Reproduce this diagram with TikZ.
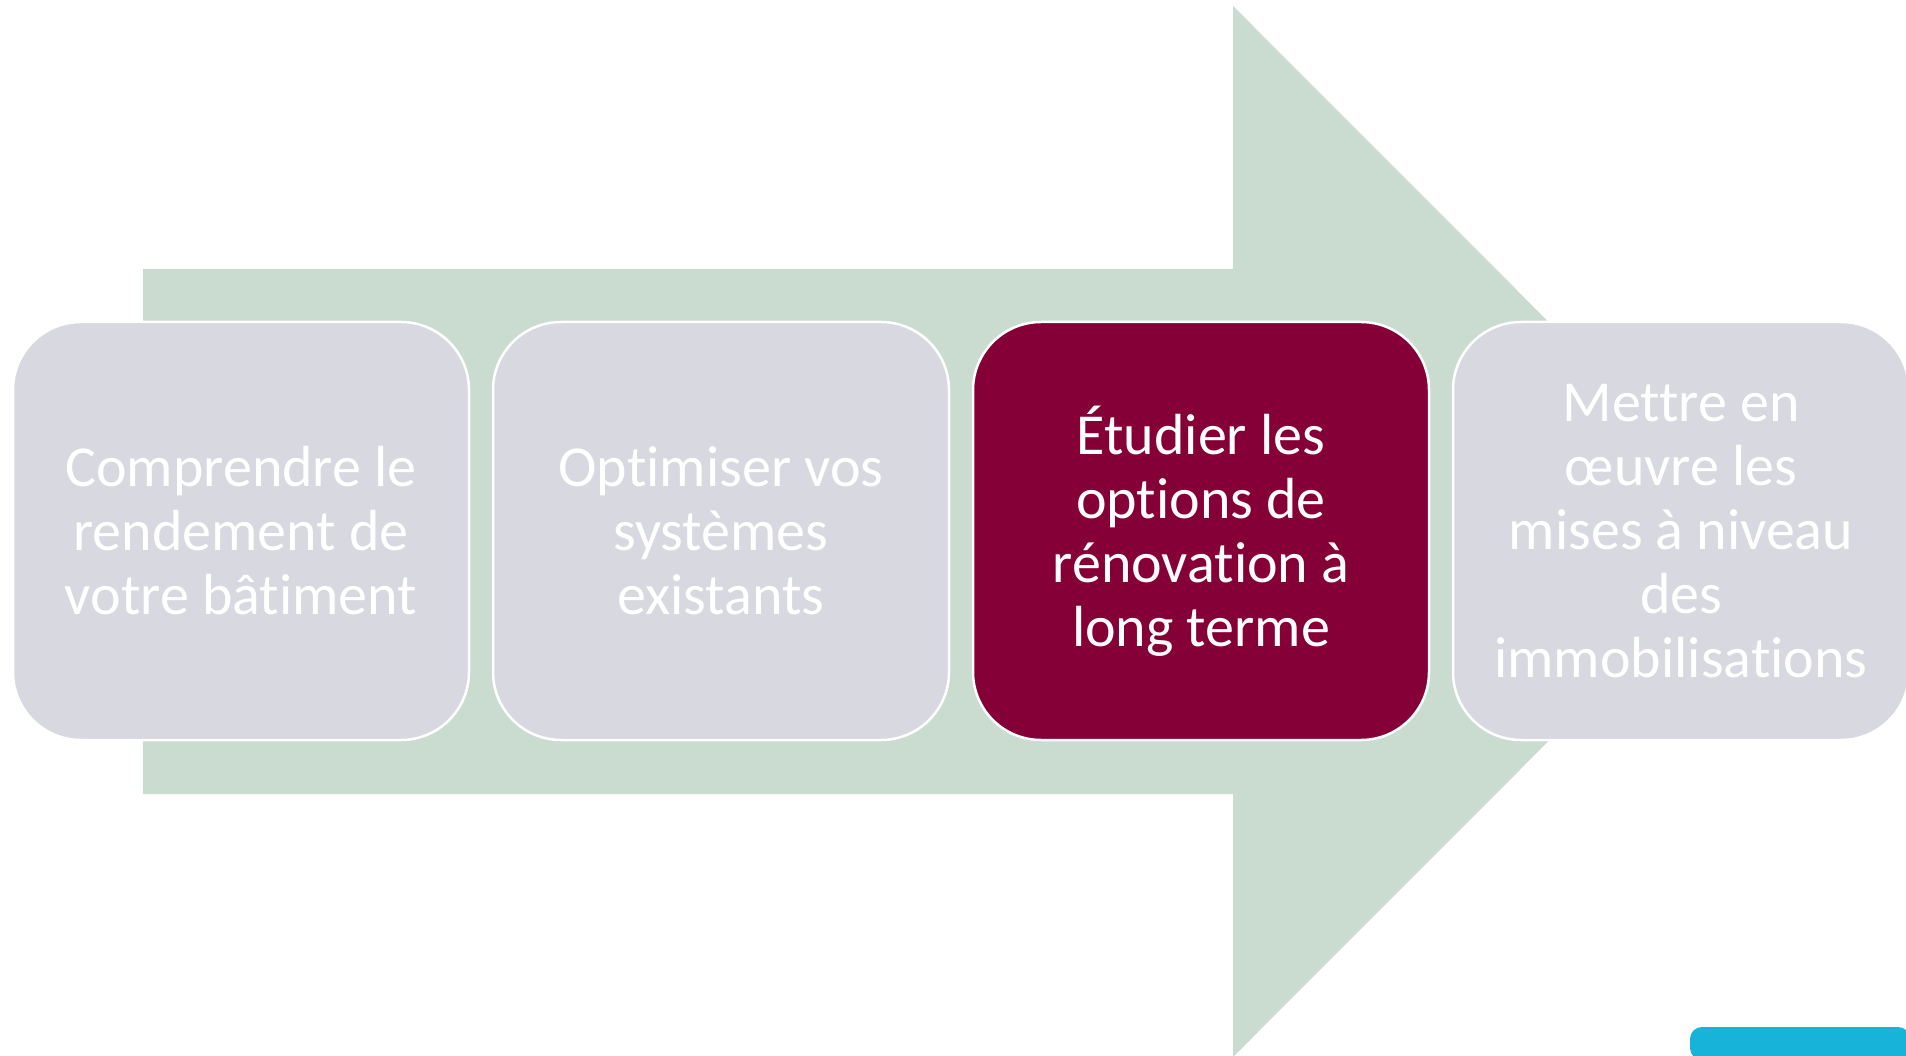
\documentclass[tikz,border=0pt]{standalone}
\usepackage{fontspec}
\setmainfont[Ligatures={NoCommon}]{Carlito}
\definecolor{arrowgreen}{HTML}{CADBD0}
\definecolor{boxgray}{HTML}{D7D8E0}
\definecolor{maroon}{HTML}{860038}
\definecolor{cornerblue}{HTML}{17B3D9}
\tikzset{
  stepbox/.style={draw=white, line width=2.5pt, rounded corners=68pt},
  steptext/.style={text=white, align=center, font=\fontsize{58}{64}\selectfont, inner sep=0pt}
}
\begin{document}
\begin{tikzpicture}[x=1pt,y=-1pt]
\useasboundingbox (0,0) rectangle (1906,1056);
\fill[white] (0,0) rectangle (1906,1056);
% big arrow
\fill[arrowgreen] (143,269) -- (1233,269) -- (1233,6) -- (1758,531.5) -- (1233,1057) -- (1233,794) -- (143,794) -- cycle;
% boxes
\draw[stepbox, fill=boxgray] (13,322) rectangle (469,740);
\draw[stepbox, fill=boxgray] (493,322) rectangle (949,740);
\draw[stepbox, fill=maroon] (973,322) rectangle (1429,740);
\draw[stepbox, fill=boxgray] (1453,322) rectangle (1909,740);
\node[steptext] (t1) at (241,531) {Comprendre le\\rendement de\\votre bâtiment};
\node[steptext] (t2) at (721,531) {Optimiser vos\\systèmes\\existants};
\node[steptext] (t3) at (1201,531) {Étudier les\\options de\\rénovation à\\long terme};
\node[steptext] (t4) at (1681,531) {Mettre en\\œuvre les\\mises à niveau\\des\\immobilisations};
% corner blue tab
\fill[cornerblue, rounded corners=12pt] (1690,1060) -- (1690,1027) -- (1910,1027) -- (1910,1060) -- cycle;
\end{tikzpicture}
\end{document}
